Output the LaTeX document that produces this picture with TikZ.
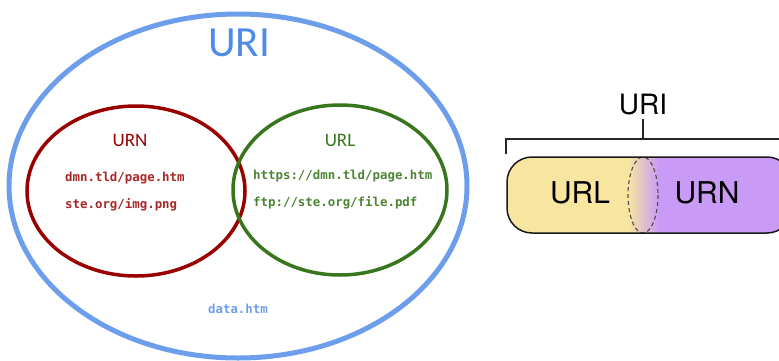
\documentclass[tikz,border=0pt]{standalone}
\usepackage{fontspec}
\setmainfont{Carlito}
\setsansfont{TeX Gyre Heros}
\setmonofont{DejaVu Sans Mono}
\definecolor{uriblue}{HTML}{6D9EEB}
\definecolor{uritext}{HTML}{4F8AE6}
\definecolor{urnred}{HTML}{990000}
\definecolor{urlgreen}{HTML}{38761D}
\definecolor{urlyellow}{HTML}{F8E6A0}
\definecolor{urnpurple}{HTML}{C99BF7}
\tikzset{
  addr/.style={font=\ttfamily\bfseries\fontsize{12.4}{14}\selectfont, anchor=west, inner sep=0pt},
  setname/.style={font=\fontsize{19}{22}\selectfont},
  partname/.style={font=\sffamily\fontsize{30}{34}\selectfont},
}
\begin{document}
\begin{tikzpicture}[x=1pt,y=-1pt]
    \useasboundingbox (0,0) rectangle (779,360);
    % sets
    \draw[uriblue, line width=5pt] (238,186) ellipse [x radius=229, y radius=172];
    \draw[urnred, line width=3.5pt] (136,191) ellipse [x radius=109, y radius=85];
    \draw[urlgreen, line width=3.5pt] (340,190) ellipse [x radius=107, y radius=85];
    \node[text=uritext, font=\fontsize{43}{48}\selectfont] (uri) at (239,43) {URI};
    \node[setname, text=urnred] (urn) at (130,140) {URN};
    \node[setname, text=urlgreen] (url) at (340,140) {URL};
    \node[addr, text=urnred!85] (urnA) at (65,178) {dmn.tld/page.htm};
    \node[addr, text=urnred!85] (urnB) at (65,205) {ste.org/img.png};
    \node[addr, text=urlgreen!90] (urlA) at (253,176) {https://dmn.tld/page.htm};
    \node[addr, text=urlgreen!90] (urlB) at (253,203) {ftp://ste.org/file.pdf};
    \node[addr, anchor=center, text=uriblue] (other) at (238,309) {data.htm};
    % bar with the two parts
    \node[font=\sffamily\fontsize{28}{32}\selectfont] (whole) at (643,105) {URI};
    \coordinate (brace) at (whole.south |- 0,139);
    \draw[line width=1.8pt, black!85] (506,154) -- (506,139) -- (792,139) -- (792,154);
    \draw[line width=1.8pt, black!85] (whole.south) -- (brace);
    \begin{scope}
        \clip[rounded corners=25pt] (507,157) rectangle (792,233);
        \fill[urlyellow] (507,157) rectangle (629,233);
        \shade[left color=urlyellow, right color=urnpurple] (628,157) rectangle (659,233);
        \fill[urnpurple] (658,157) rectangle (792,233);
    \end{scope}
    \draw[black!70, line width=1.1pt, dash pattern=on 4pt off 3pt] (643,195) ellipse [x radius=15, y radius=38];
    \draw[line width=1.5pt, black!90, rounded corners=25pt] (507,157) rectangle (792,233);
    \node[partname] (left) at (580,193) {URL};
    \node[partname] (right) at (707,193) {URN};
\end{tikzpicture}
\end{document}
